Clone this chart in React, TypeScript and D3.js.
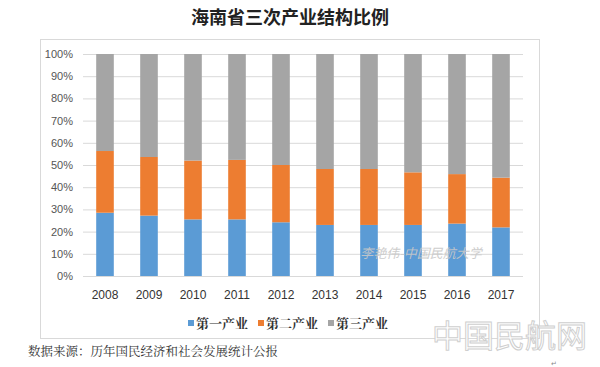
import React from "react";
import * as d3 from "d3";

const years = ["2008", "2009", "2010", "2011", "2012", "2013", "2014", "2015", "2016", "2017"];
const primary = [28.5, 27.2, 25.5, 25.5, 24.2, 23.0, 23.0, 23.0, 23.6, 21.9];
const secondary = [27.8, 26.4, 26.5, 26.8, 25.8, 25.2, 25.2, 23.7, 22.3, 22.4];
const tertiary = primary.map((p, i) => Math.round((100 - p - secondary[i]) * 10) / 10);
const seriesNames = ["第一产业", "第二产业", "第三产业"];
const colors = ["#5B9BD5", "#ED7D31", "#A5A5A5"];
const yTicks = [0, 10, 20, 30, 40, 50, 60, 70, 80, 90, 100];

export default function App() {
  const W = 600, H = 367;
  const x = d3.scaleBand<string>().domain(years).range([83, 523]).paddingInner(0.6).paddingOuter(0.3);
  const y = d3.scaleLinear().domain([0, 100]).range([276, 54]);
  const rows = years.map((yr, i) => ({ yr, s0: primary[i], s1: secondary[i], s2: tertiary[i] }));
  const stack = d3.stack<any>().keys(["s0", "s1", "s2"])(rows);
  const sans = "'Liberation Sans', Arial, sans-serif";
  const serif = "'Noto Sans CJK SC', serif";
  return (
    <svg width={W} height={H} style={{ position: "absolute", left: 0, top: 0, background: "#fff" }}>
      <rect x={0} y={0} width={W} height={H} fill="#fff" />
      <text x={290} y={24} textAnchor="middle" fontSize={18} fontWeight="bold" fontFamily="'Noto Sans CJK SC', sans-serif" fill="#222">
        海南省三次产业结构比例
      </text>
      <rect x={40.5} y={39.5} width={499} height={299} fill="#fff" stroke="#D9D9D9" strokeWidth={1} />
      {yTicks.map((t) => (
        <g key={t}>
          <line x1={83} x2={523} y1={y(t) + 0.5} y2={y(t) + 0.5} stroke="#D9D9D9" strokeWidth={1} />
          <text x={73} y={y(t) + 4} textAnchor="end" fontSize={11} fontFamily={sans} fill="#555">{t}%</text>
        </g>
      ))}
      {stack.map((s, si) => (
        <g key={si} fill={colors[si]}>
          {s.map((d: any) => (
            <rect key={d.data.yr} x={x(d.data.yr)} width={x.bandwidth()} y={y(d[1])} height={y(d[0]) - y(d[1])} />
          ))}
        </g>
      ))}
      {years.map((yr) => (
        <text key={yr} x={(x(yr) as number) + x.bandwidth() / 2} y={299} textAnchor="middle" fontSize={12} fontFamily={sans} fill="#333">{yr}</text>
      ))}
      <text x={421} y={258} textAnchor="middle" fontSize={13} fontStyle="italic" fontFamily={serif} fill="#c8c8c8" opacity={0.9}>李艳伟-中国民航大学</text>
      {seriesNames.map((n, i) => (
        <g key={n} transform={`translate(${188 + i * 70},0)`}>
          <rect x={0} y={320} width={6} height={6} fill={colors[i]} />
          <text x={8} y={328} fontSize={13} fontWeight="bold" fontFamily="'Noto Serif CJK SC', 'Noto Sans CJK SC', serif" fill="#333">{n}</text>
        </g>
      ))}
      <text x={28} y={356} fontSize={12.5} fontFamily="'Noto Serif CJK SC', 'Noto Sans CJK SC', serif" fill="#333">数据来源：历年国民经济和社会发展统计公报</text>
      <text x={432} y={347} fontSize={31} fontFamily="'Noto Sans CJK SC', sans-serif" fill="#fff" stroke="#cfcfcf" strokeWidth={1}>中国民航网</text>
      <text x={551} y={366} fontSize={7} fill="#888" fontFamily={sans}>↵</text>
    </svg>
  );
}
